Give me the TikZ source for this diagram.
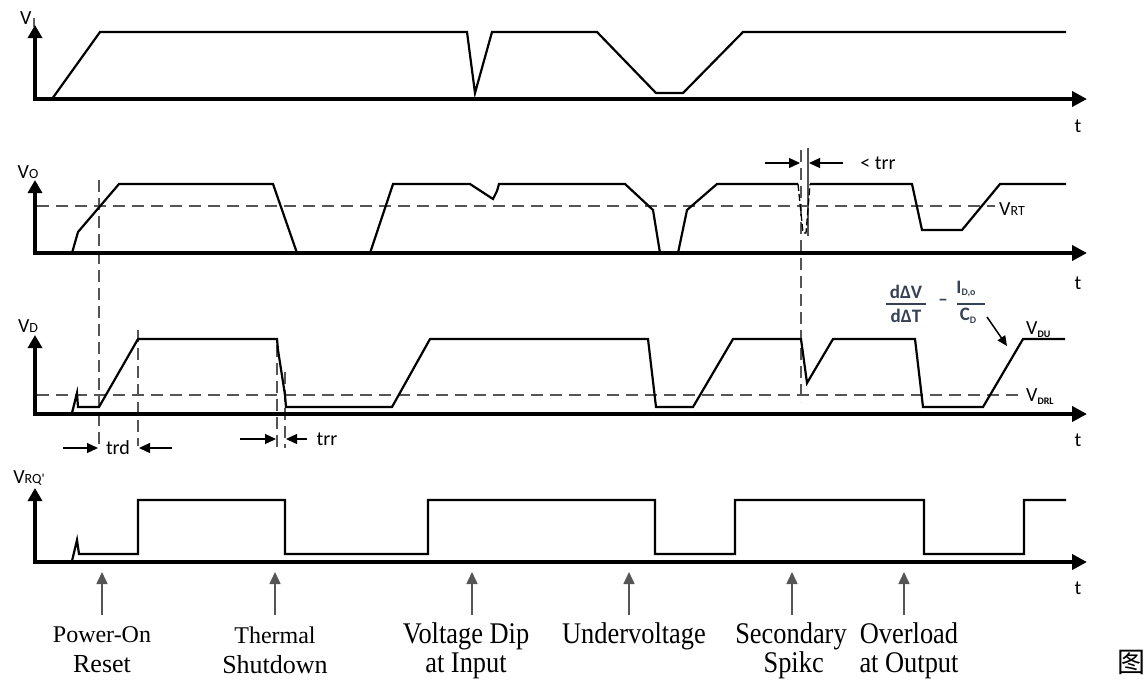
\documentclass[tikz,border=0pt]{standalone}
\usepackage{fontspec}
\setmainfont{Liberation Serif}
\newfontfamily\sansf{Carlito}
\newfontfamily\cjkf{Noto Sans CJK SC}
\usetikzlibrary{arrows.meta}
\definecolor{dgray}{RGB}{85,85,85}
\definecolor{fcol}{RGB}{55,65,85}
\newcommand\axf{\sansf\fontsize{20}{22}\selectfont}
\newcommand\subf{\sansf\fontsize{14}{15}\selectfont}
\newcommand\tinyf{\sansf\bfseries\fontsize{10}{11}\selectfont}
\newcommand\evsmall{\fontsize{24}{30}\selectfont}
\newcommand\evmid{\fontsize{26}{30}\selectfont}
\newcommand\evbig{\fontsize{30}{29}\selectfont}
\newcommand\cond[1]{\scalebox{0.88}[1]{#1}}
\begin{document}
\begin{tikzpicture}[x=1pt,y=-1pt,
  axisline/.style={line width=4pt,line join=miter,
    {Triangle[length=13pt,width=14pt]}-{Triangle[length=15pt,width=15pt]}},
  sig/.style={line width=2.2pt,line join=miter},
  guide/.style={dgray,line width=1.4pt,dash pattern=on 12pt off 7pt},
  vguide/.style={dgray,line width=1.3pt,dash pattern=on 12pt off 6pt},
  thinline/.style={dgray,line width=1.1pt},
  dimarrow/.style={line width=1.3pt,-{Triangle[length=11pt,width=10pt]}},
  evarrow/.style={dgray,line width=1.6pt,-{Triangle[length=12pt,width=11pt]}},
  axl/.style={inner sep=0pt,font=\axf},
  evlab/.style={inner sep=0pt,anchor=center,align=center},
  evs/.style={evlab,font=\evmid},
  evb/.style={evlab,font=\evbig},
  frac/.style={inner sep=0pt,text=fcol,font=\sansf\bfseries\fontsize{19}{20}\selectfont}]
\useasboundingbox (0,0) rectangle (1147,689);

% ---------- guides ----------
\draw[guide] (37,206) -- (995,206);
\draw[guide] (37,395) -- (1022,395);
\draw[vguide] (99,180) -- (99,446);
\draw[vguide] (138,330) -- (138,446);
\draw[vguide] (277,345) -- (277,448);
\draw[vguide] (285,372) -- (285,448);
\draw[vguide] (801,150) -- (801,402);
\draw[thinline] (808,148) -- (808,236);

% ---------- axes ----------
\draw[axisline] (35,25) -- (35,99) -- (1087,99);
\draw[axisline] (35,180) -- (35,253) -- (1087,253);
\draw[axisline] (35,335) -- (35,414) -- (1087,414);
\draw[axisline] (35,488) -- (35,562) -- (1087,562);

% ---------- VI ----------
\draw[sig] (52,99) -- (100,32) -- (467,32) -- (475,93) -- (492,32) -- (597,32)
  -- (656,93) -- (683,93) -- (743,32) -- (1066,32);

% ---------- VO ----------
\draw[sig] (72,253) -- (78,232) -- (119,184) -- (273,184) -- (297,253);
\draw[sig] (370,253) -- (393,184) -- (470,184) -- (493,199) -- (497,191) -- (499,184)
  -- (625,184) -- (653,210) -- (660,253);
\draw[sig] (678,253) -- (687,210) -- (717,184) -- (798,184);
\draw[line width=1.3pt,dash pattern=on 7pt off 3pt] (798,184) -- (803,233) -- (806,233) -- (810,184);
\draw[sig] (810,184) -- (912,184) -- (922,230) -- (962,230) -- (1000,184) -- (1066,184);

% ---------- VD ----------
\draw[sig] (72,413) -- (77,393) -- (78,407) -- (99,407) -- (138,339) -- (277,339)
  -- (278,350) -- (285,395) -- (286,407) -- (392,407) -- (430,339) -- (648,339)
  -- (656,407) -- (693,407) -- (733,339) -- (801,339) -- (807,383) -- (833,339)
  -- (915,339) -- (923,407) -- (983,407) -- (1023,339) -- (1065,339);

% ---------- VRQ ----------
\draw[sig] (72,561) -- (77,540) -- (79,554) -- (138,554) -- (138,500) -- (285,500)
  -- (285,554) -- (428,554) -- (428,500) -- (655,500) -- (655,554) -- (735,554)
  -- (735,500) -- (924,500) -- (924,554) -- (1024,554) -- (1024,500) -- (1066,500);

% ---------- axis labels ----------
\node[axl] (lVI) at (28,20) {V\hspace{1pt}\raisebox{-3pt}{\subf I}};
\node[axl] (lVO) at (28,172) {V\hspace{0pt}\subf O};
\node[axl] (lVD) at (28,326) {V\hspace{0pt}\subf D};
\node[axl] (lVRQ) at (29,478) {V\hspace{0pt}\subf RQ'};
\node[axl] (t1) at (1078,126) {t};
\node[axl] (t2) at (1078,283) {t};
\node[axl] (t3) at (1078,440) {t};
\node[axl] (t4) at (1078,588) {t};
\node[axl,anchor=west] (lVRT) at (999,209) {V\subf RT};
\node[axl,anchor=west] (lVDU) at (1026,330) {V\raisebox{-3pt}{\tinyf DU}};
\node[axl,anchor=west] (lVDRL) at (1026,397) {V\raisebox{-3pt}{\tinyf DRL}};

% ---------- timing annotations ----------
\coordinate (trdA) at (63,448);  \coordinate (trdB) at (98,448);
\coordinate (trdC) at (172,448); \coordinate (trdD) at (139,448);
\draw[dimarrow] (trdA) -- (trdB);
\draw[dimarrow] (trdC) -- (trdD);
\node[axl] (ltrd) at (118,448) {trd};
\coordinate (trrA) at (240,439); \coordinate (trrB) at (276,439);
\coordinate (trrC) at (307,439); \coordinate (trrD) at (286,439);
\draw[dimarrow] (trrA) -- (trrB);
\draw[dimarrow] (trrC) -- (trrD);
\node[axl] (ltrr) at (327,439) {trr};
\coordinate (strA) at (765,163); \coordinate (strB) at (800,163);
\coordinate (strC) at (843,163); \coordinate (strD) at (809,163);
\draw[dimarrow] (strA) -- (strB);
\draw[dimarrow] (strC) -- (strD);
\node[axl] (lstrr) at (878,163) {< trr};

% ---------- formula ----------
\node[frac] (fnum) at (906,292) {dΔV};
\node[frac] (fden) at (906,316) {dΔT};
\draw[fcol,line width=1.2pt] (886,304) -- (926,304);
\node[frac] (fminus) at (943,302) {–};
\node[frac] (fI) at (966,289) {I\raisebox{-2pt}{\tinyf D,o}};
\node[frac] (fC) at (968,316) {C\raisebox{-3pt}{\tinyf D}};
\draw[fcol,line width=1.2pt] (957,304) -- (985,304);
\draw[line width=1.5pt,-{Triangle[length=10pt,width=9pt]}] (987,317) -- (1007,346);

% ---------- event arrows ----------
\foreach \n/\x in {a/102,b/275,c/472,d/629,e/792,f/904}{
  \coordinate (ev\n) at (\x,615);
  \coordinate (ax\n) at (\x,572);
  \draw[evarrow] (ev\n) -- (ax\n);
}

% ---------- event labels ----------
\node[evs] (e1) at (102,650) {{\evsmall Power-On}\\Reset};
\node[evs] (e2) at (275,650) {{\evsmall Thermal}\\Shutdown};
\node[evb] (e3) at (466,651) {\cond{Voltage Dip}\\\cond{at Input}};
\node[evb] (e4) at (634,636) {\cond{Undervoltage}};
\node[evb] (e5) at (791,651) {\cond{Secondary}\\\cond{\hspace{6pt}Spikc}};
\node[evb] (e6) at (909,651) {\cond{Overload}\\\cond{at Output}};
\node[evlab] (fig) at (1131,662) {\cjkf\fontsize{28}{30}\selectfont 图};
\end{tikzpicture}
\end{document}
